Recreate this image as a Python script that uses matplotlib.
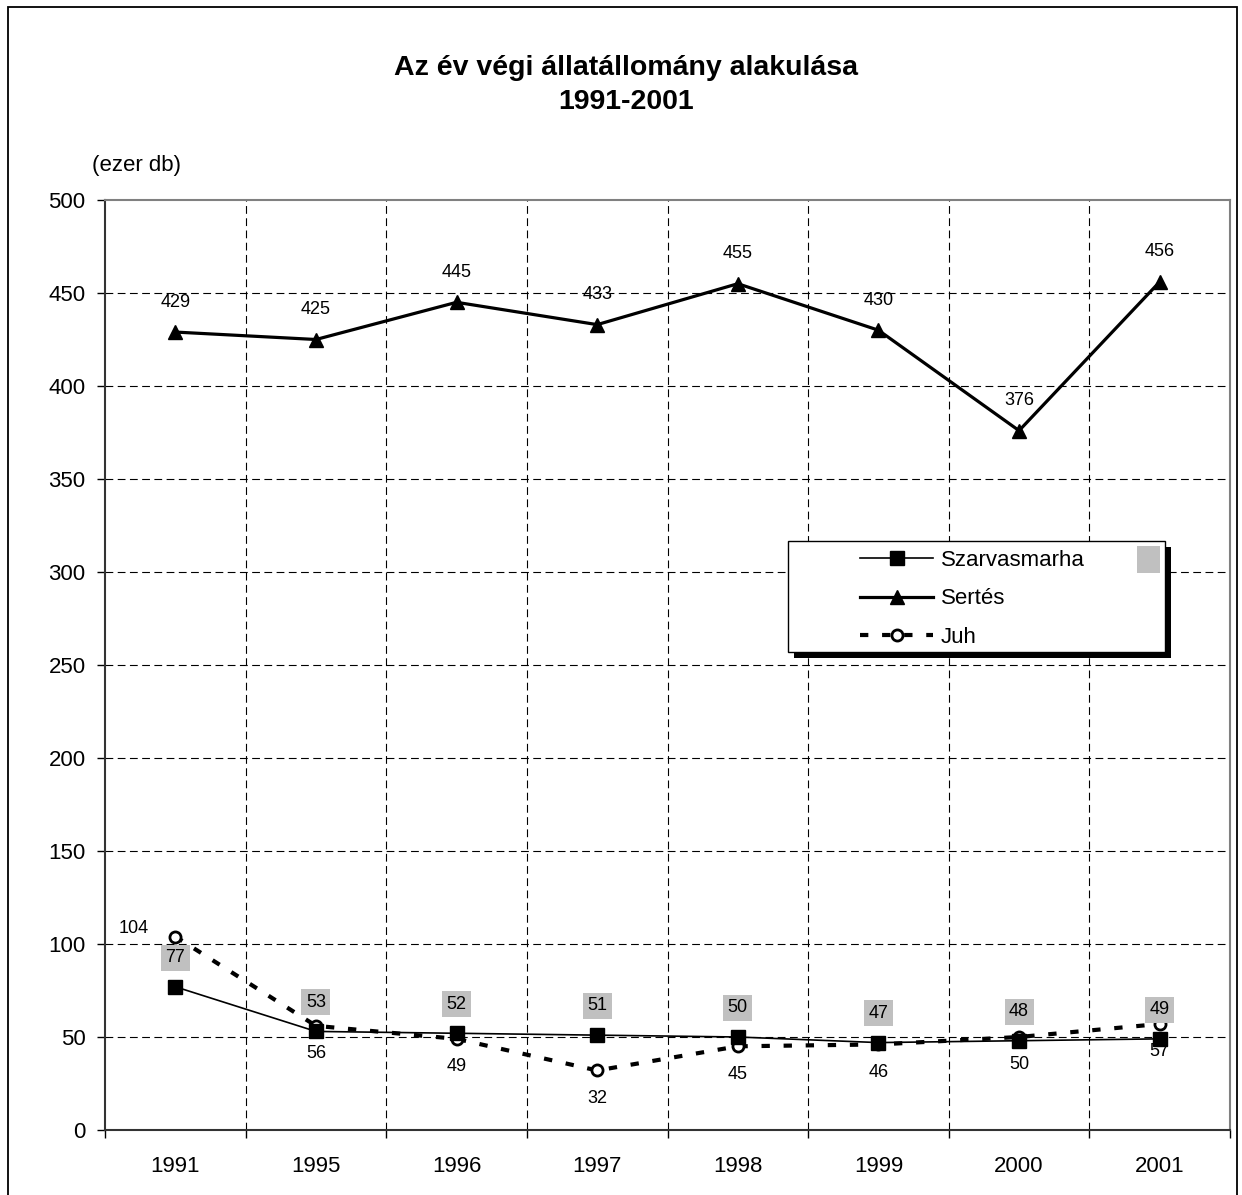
import matplotlib
matplotlib.use("Agg")
import matplotlib.pyplot as plt
from matplotlib.patches import Rectangle
from matplotlib.lines import Line2D

plt.rcParams['font.family'] = ['Liberation Sans', 'DejaVu Sans']

years = ['1991', '1995', '1996', '1997', '1998', '1999', '2000', '2001']
szarvasmarha = [77, 53, 52, 51, 50, 47, 48, 49]
sertes = [429, 425, 445, 433, 455, 430, 376, 456]
juh = [104, 56, 49, 32, 45, 46, 50, 57]
yticks = [0, 50, 100, 150, 200, 250, 300, 350, 400, 450, 500]

W, H = 1242, 1195
fig = plt.figure(figsize=(W / 100, H / 100), dpi=100)

def fx(px):
    return px / W

def fy(py):
    return 1 - py / H

ax = fig.add_axes([fx(105), fy(1130), fx(1230) - fx(105), fy(200) - fy(1130)])
x = list(range(len(years)))

# grid lines
for v in yticks[1:-1]:
    ax.axhline(v, color='black', lw=0.8, ls=(0, (7, 4)), zorder=1)
for b in range(len(years) - 1):
    ax.axvline(b + 0.5, color='black', lw=0.8, ls=(0, (7, 4)), zorder=1)

l1, = ax.plot(x, szarvasmarha, color='black', lw=1.2, marker='s', ms=9.5,
              mfc='black', mec='black', zorder=4)
l2, = ax.plot(x, sertes, color='black', lw=2.3, marker='^', ms=10,
              mfc='black', mec='black', zorder=4)
l3, = ax.plot(x, juh, color='black', lw=3, ls=(0, (2, 3.3)), marker='o', ms=8,
              mfc='white', mec='black', mew=2, zorder=3)

for i, v in enumerate(szarvasmarha):
    ax.annotate(str(v), (i, v), xytext=(0, 21), textcoords='offset points',
                ha='center', va='center', fontsize=13, zorder=6,
                bbox=dict(boxstyle='square,pad=0.25', fc='#C0C0C0', ec='none'))
for i, v in enumerate(sertes):
    ax.annotate(str(v), (i, v), xytext=(0, 21.5), textcoords='offset points',
                ha='center', va='center', fontsize=13, zorder=6)
for i, v in enumerate(juh):
    off = (-30, 6) if i == 0 else (0, -20)
    ax.annotate(str(v), (i, v), xytext=off, textcoords='offset points',
                ha='center', va='center', fontsize=13, zorder=6)

ax.set_xlim(-0.5, len(years) - 0.5)
ax.set_ylim(0, 500)
ax.set_yticks(yticks)
ax.set_xticks(x)
ax.set_xticklabels(years)
ax.set_xticks([b - 0.5 for b in range(len(years) + 1)], minor=True)
ax.tick_params(axis='x', which='major', length=0, pad=19, labelsize=16)
ax.tick_params(axis='x', which='minor', length=6, width=1, direction='out')
ax.tick_params(axis='y', length=6, width=1, direction='out', pad=8, labelsize=16)
for s in ['top', 'right']:
    ax.spines[s].set_color('#808080')
    ax.spines[s].set_linewidth(1.5)
for s in ['left', 'bottom']:
    ax.spines[s].set_color('#333333')
    ax.spines[s].set_linewidth(1.5)

# title and unit
fig.text(fx(626), fy(68), 'Az év végi állatállomány alakulása', ha='center', va='center',
         fontsize=20.5, fontweight='bold')
fig.text(fx(626), fy(102), '1991-2001', ha='center', va='center',
         fontsize=20.5, fontweight='bold')
fig.text(fx(136), fy(165), '(ezer db)', ha='center', va='center', fontsize=16)

# legend box with shadow
fig.patches.append(Rectangle((fx(794), fy(658)), fx(1171) - fx(794), fy(547) - fy(658),
                             transform=fig.transFigure, fc='black', ec='none', zorder=5))
fig.patches.append(Rectangle((fx(788), fy(652)), fx(1165) - fx(788), fy(541) - fy(652),
                             transform=fig.transFigure, fc='white', ec='black', lw=1,
                             zorder=6))
fig.patches.append(Rectangle((fx(1137), fy(573)), fx(1160) - fx(1137), fy(546) - fy(573),
                             transform=fig.transFigure, fc='#C0C0C0', ec='none', zorder=7))
leg = fig.legend([l1, l2, l3], ['Szarvasmarha', 'Sertés', 'Juh'], loc='upper left',
                 bbox_to_anchor=(fx(860), fy(550)), frameon=False, fontsize=16,
                 handlelength=3.3, handletextpad=0.35, labelspacing=0.78, borderpad=0,
                 borderaxespad=0)
leg.set_zorder(8)

# outer border
fig.patches.append(Rectangle((fx(8), fy(1200)), fx(1237) - fx(8), fy(7) - fy(1200),
                             transform=fig.transFigure, fc='none', ec='black', lw=1.3,
                             zorder=10))

fig.savefig('out.png', dpi=100)
